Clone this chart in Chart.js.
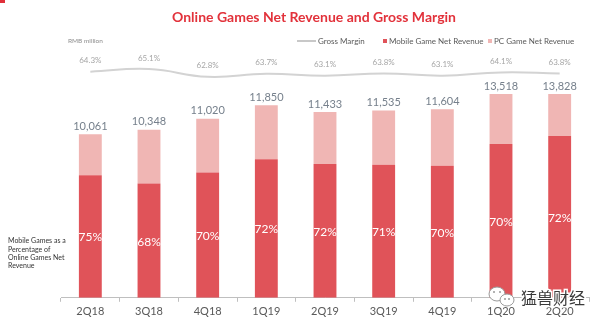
<!DOCTYPE html>
<html><head><meta charset="utf-8">
<script src="https://cdn.jsdelivr.net/npm/chart.js@4/dist/chart.umd.min.js"></script>
<style>
html,body{margin:0;padding:0;background:#fff;}
#wrap{position:relative;width:602px;height:326px;}
#mark{position:absolute;left:0;top:0;width:5px;height:3px;background:#e0303a;}
</style></head><body>
<div id="wrap"><canvas id="c" width="602" height="326"></canvas><div id="mark"></div></div>
<script>
const categories = ['2Q18','3Q18','4Q18','1Q19','2Q19','3Q19','4Q19','1Q20','2Q20'];
const totalRevenue = [10061, 10348, 11020, 11850, 11433, 11535, 11604, 13518, 13828];
const mobileRevenue = [7546, 7037, 7714, 8532, 8232, 8190, 8123, 9463, 9956];
const pcRevenue = [2515, 3311, 3306, 3318, 3201, 3345, 3481, 4055, 3872];
const mobileShare = [75, 68, 70, 72, 72, 71, 70, 70, 72];
const grossMargin = [64.3, 65.1, 62.8, 63.7, 63.1, 63.8, 63.1, 64.1, 63.8];

const FONT = 'Lato, "Open Sans", sans-serif';
const fmt = v => v.toLocaleString('en-US');

const textPlugin = {
  id: 'texts',
  afterDatasetsDraw(chart) {
    const ctx = chart.ctx, area = chart.chartArea;
    ctx.save();
    ctx.textAlign = 'center';
    ctx.textBaseline = 'middle';
    // totals
    const pcMeta = chart.getDatasetMeta(2);
    ctx.fillStyle = '#76808c';
    ctx.font = '11px ' + FONT;
    pcMeta.data.forEach((el, i) => {
      const top = Math.max(el.y, area.top);
      ctx.fillText(fmt(totalRevenue[i]), el.x, top - 8);
    });
    // mobile share
    const mMeta = chart.getDatasetMeta(1);
    ctx.fillStyle = '#ffffff';
    ctx.font = '12px ' + FONT;
    mMeta.data.forEach((el, i) => {
      ctx.fillText(mobileShare[i] + '%', el.x, (el.y + el.base) / 2 + 1);
    });
    // gross margin labels
    const lMeta = chart.getDatasetMeta(0);
    ctx.fillStyle = '#a6a6a6';
    ctx.font = '8px ' + FONT;
    lMeta.data.forEach((el, i) => {
      ctx.fillText(grossMargin[i].toFixed(1) + '%', el.x, el.y - 11);
    });
    ctx.restore();
  },
  afterDraw(chart) {
    const ctx = chart.ctx;
    ctx.save();
    ctx.textBaseline = 'middle';
    // title
    ctx.textAlign = 'center';
    ctx.fillStyle = '#e2323b';
    ctx.font = 'bold 14px ' + FONT;
    ctx.fillText('Online Games Net Revenue and Gross Margin', 314, 17);
    // unit
    ctx.textAlign = 'left';
    ctx.fillStyle = '#8c8c8c';
    ctx.font = '6.5px ' + FONT;
    ctx.fillText('RMB million', 68, 41);
    // legend
    ctx.strokeStyle = '#c8c8c8';
    ctx.lineWidth = 2;
    ctx.beginPath(); ctx.moveTo(297, 41); ctx.lineTo(316, 41); ctx.stroke();
    ctx.fillStyle = '#595959';
    ctx.font = '8px ' + FONT;
    ctx.fillText('Gross Margin', 318, 41);
    ctx.fillStyle = '#e05359';
    ctx.fillRect(383, 39, 4, 4);
    ctx.fillStyle = '#595959';
    ctx.fillText('Mobile Game Net Revenue', 389, 41);
    ctx.fillStyle = '#f0b6b4';
    ctx.fillRect(488, 39, 4, 4);
    ctx.fillStyle = '#595959';
    ctx.fillText('PC Game Net Revenue', 494, 41);
    // side note
    ctx.fillStyle = '#333333';
    ctx.font = '7px ' + FONT;
    ['Mobile Games as a', 'Percentage of', 'Online Games Net', 'Revenue'].forEach((t, i) => {
      ctx.fillText(t, 8, 241 + i * 8.4);
    });
    // watermark icon
    ctx.lineWidth = 1;
    ctx.strokeStyle = '#9a9a9a';
    ctx.fillStyle = '#ffffff';
    ctx.beginPath(); ctx.ellipse(497, 294, 8, 7, 0, 0, Math.PI * 2); ctx.fill(); ctx.stroke();
    ctx.beginPath(); ctx.ellipse(507, 300, 7, 6, 0, 0, Math.PI * 2); ctx.fill(); ctx.stroke();
    ctx.fillStyle = '#9a9a9a';
    [[494, 292], [500, 292], [505, 299], [509, 299]].forEach(p => { ctx.beginPath(); ctx.arc(p[0], p[1], 1, 0, Math.PI * 2); ctx.fill(); });
    // watermark text
    ctx.font = '16px "Noto Sans CJK SC"';
    ctx.lineWidth = 3;
    ctx.strokeStyle = '#ffffff';
    ctx.strokeText('猛兽财经', 521, 298);
    ctx.fillStyle = '#3a3a3a';
    ctx.fillText('猛兽财经', 521, 298);
    ctx.restore();
  }
};

new Chart(document.getElementById('c'), {
  type: 'bar',
  data: {
    labels: categories,
    datasets: [
      { type: 'line', label: 'Gross Margin', data: grossMargin, yAxisID: 'y2',
        borderColor: '#d3d3d3', borderWidth: 2, pointRadius: 0, tension: 0.45, clip: false, order: 0 },
      { label: 'Mobile Game Net Revenue', data: mobileRevenue, backgroundColor: '#e05359',
        stack: 's', barPercentage: 0.39, categoryPercentage: 1, yAxisID: 'y', order: 1 },
      { label: 'PC Game Net Revenue', data: pcRevenue, backgroundColor: '#f0b6b4',
        stack: 's', barPercentage: 0.39, categoryPercentage: 1, yAxisID: 'y', order: 1 }
    ]
  },
  options: {
    responsive: false,
    animation: false,
    layout: { padding: { left: 61, right: 13, top: 94, bottom: 5 } },
    plugins: { legend: { display: false }, title: { display: false }, tooltip: { enabled: false } },
    scales: {
      x: {
        stacked: true, offset: true,
        grid: { offset: true, drawOnChartArea: false, drawTicks: true, tickLength: 4, tickColor: '#bfbfbf', tickWidth: 1 },
        border: { color: '#bfbfbf', width: 1 },
        ticks: { color: '#595959', font: { family: FONT, size: 11 }, padding: 3 }
      },
      y: { stacked: true, display: false, min: 0, max: 12545 },
      y2: { display: false, min: -3.23, max: 57.65 }
    }
  },
  plugins: [textPlugin]
});
</script>
</body></html>
